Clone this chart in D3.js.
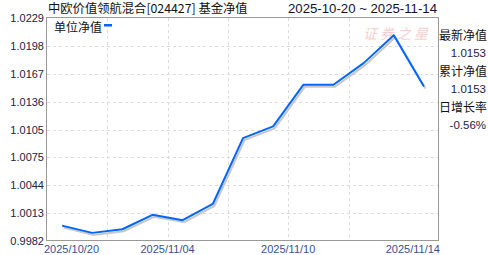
<!DOCTYPE html>
<html>
<head>
<meta charset="utf-8">
<script src="https://cdn.jsdelivr.net/npm/d3@7/dist/d3.min.js"></script>
<style>
  body { margin: 0; background: #fff; }
  svg { display: block; font-family: "Liberation Sans", Arial, "Noto Sans CJK SC", sans-serif; }
  .cjk { font-family: "Noto Sans CJK SC", "Liberation Sans", sans-serif; }
</style>
</head>
<body>
<svg width="488" height="255"></svg>
<script>
// data
let dates = ["2025/10/20", "2025/10/24", "2025/10/31", "2025/11/03", "2025/11/04", "2025/11/05",
             "2025/11/06", "2025/11/07", "2025/11/10", "2025/11/11", "2025/11/12", "2025/11/13", "2025/11/14"];
let navValues = [0.9999, 0.9991, 0.9995, 1.0011, 1.0005, 1.0023, 1.0096, 1.0109, 1.0155, 1.0155, 1.0179, 1.0210, 1.0153];
let yTicks = [0.9982, 1.0013, 1.0044, 1.0075, 1.0105, 1.0136, 1.0167, 1.0198, 1.0229];
let xLabelIdx = [0, 4, 8, 12];
let title = "中欧价值领航混合[024427] 基金净值";
let dateRange = "2025-10-20 ~ 2025-11-14";
let sideLabels = ["最新净值", "累计净值", "日增长率"];
let sideValues = ["1.0153", "1.0153", "-0.56%"];

let svg = d3.select("svg"),
    plotL = 47, plotR = 439, plotT = 18, plotB = 241;

let x = d3.scaleBand().domain(dates).range([plotL, plotR]).padding(0);
let y = d3.scaleLinear().domain([yTicks[0], yTicks[yTicks.length - 1]]).range([plotB, plotT]);

// grid
let grid = svg.append("g")
    .attr("stroke", "#dcdcdc")
    .attr("stroke-dasharray", "3,3")
    .attr("shape-rendering", "crispEdges");

grid.selectAll("line.h")
    .data(yTicks.slice(1, -1))
    .enter().append("line")
      .attr("x1", plotL).attr("x2", plotR)
      .attr("y1", function(d) { return Math.round(y(d)) + 0.5; })
      .attr("y2", function(d) { return Math.round(y(d)) + 0.5; });

grid.selectAll("line.v")
    .data(dates.filter(function(d, i) { return i > 0 && i < 12 && i % 2 === 0; }))
    .enter().append("line")
      .attr("y1", plotT).attr("y2", plotB)
      .attr("x1", function(d) { return Math.round(x(d)) + 0.5; })
      .attr("x2", function(d) { return Math.round(x(d)) + 0.5; });

// watermark
svg.append("text")
    .attr("class", "cjk")
    .attr("x", 397).attr("y", 39)
    .attr("text-anchor", "middle")
    .attr("font-size", 14)
    .attr("font-style", "italic")
    .attr("fill", "#f8cfcf")
    .attr("letter-spacing", 3)
    .text("证券之星");

// frame
svg.append("rect")
    .attr("x", plotL - 0.5).attr("y", plotT - 0.5)
    .attr("width", plotR - plotL).attr("height", plotB - plotT)
    .attr("fill", "none")
    .attr("stroke", "#999")
    .attr("shape-rendering", "crispEdges");

// line + shadow
let line = d3.line()
    .x(function(d, i) { return x(dates[i]) + x.bandwidth() / 2; })
    .y(function(d) { return y(d); });

svg.append("path")
    .datum(navValues)
    .attr("d", line)
    .attr("transform", "translate(1.5,2)")
    .attr("fill", "none")
    .attr("stroke", "#c8c8c8")
    .attr("stroke-width", 2);

svg.append("path")
    .datum(navValues)
    .attr("d", line)
    .attr("fill", "none")
    .attr("stroke", "#0066ff")
    .attr("stroke-width", 2)
    .attr("stroke-linejoin", "round");

// y labels
svg.selectAll(".ylab")
    .data(yTicks)
    .enter().append("text")
      .attr("x", 44)
      .attr("y", function(d) { return y(d) + 4; })
      .attr("text-anchor", "end")
      .attr("font-size", 11)
      .attr("fill", "#222244")
      .text(function(d) { return d.toFixed(4); });

// x labels
svg.selectAll(".xlab")
    .data(xLabelIdx)
    .enter().append("text")
      .attr("x", function(i) {
        if (i === 0) return plotL - 3;
        if (i === dates.length - 1) return plotR + 1;
        return x(dates[i]);
      })
      .attr("y", 253)
      .attr("text-anchor", function(i) {
        if (i === 0) return "start";
        if (i === dates.length - 1) return "end";
        return "middle";
      })
      .attr("font-size", 11)
      .attr("fill", "#3a4f8f")
      .text(function(i) { return dates[i]; });

// title row
svg.append("text")
    .attr("class", "cjk")
    .attr("x", 48).attr("y", 13)
    .attr("font-size", 12.3)
    .attr("fill", "#111")
    .text(title);

svg.append("text")
    .attr("x", 437).attr("y", 13)
    .attr("text-anchor", "end")
    .attr("font-size", 13.2)
    .attr("fill", "#111133")
    .text(dateRange);

// legend
svg.append("text")
    .attr("class", "cjk")
    .attr("x", 54).attr("y", 32)
    .attr("font-size", 12)
    .attr("fill", "#111")
    .text("单位净值");
svg.append("rect")
    .attr("x", 104).attr("y", 24)
    .attr("width", 8).attr("height", 2.5)
    .attr("fill", "#0066ff");

// side panel
sideLabels.forEach(function(lab, i) {
  svg.append("text")
      .attr("class", "cjk")
      .attr("x", 487).attr("y", 40 + i * 36)
      .attr("text-anchor", "end")
      .attr("font-size", 12)
      .attr("fill", "#111")
      .text(lab);
  svg.append("text")
      .attr("x", 486).attr("y", 57 + i * 36)
      .attr("text-anchor", "end")
      .attr("font-size", 11.5)
      .attr("fill", "#222244")
      .text(sideValues[i]);
});
</script>
</body>
</html>
